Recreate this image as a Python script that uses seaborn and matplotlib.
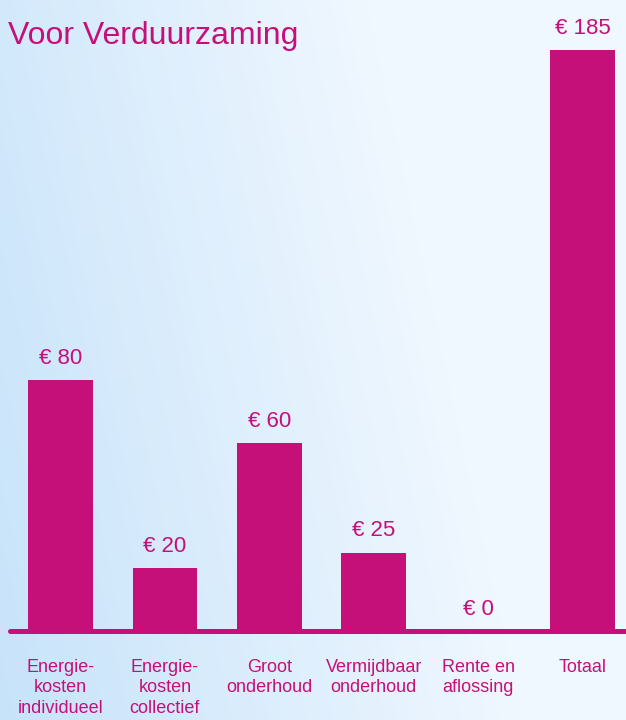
import numpy as np
import matplotlib
matplotlib.use("Agg")
import matplotlib.pyplot as plt
import seaborn as sns

# data
categories = ["Energie-\nkosten\nindividueel", "Energie-\nkosten\ncollectief", "Groot\nonderhoud",
              "Vermijdbaar\nonderhoud", "Rente en\naflossing", "Totaal"]
values = [80, 20, 60, 25, 0, 185]
value_labels = ["€ 80", "€ 20", "€ 60", "€ 25", "€ 0", "€ 185"]

magenta = "#C5107A"

sns.set_style("white")
plt.rcParams['font.family'] = ['Liberation Sans', 'DejaVu Sans']

fig = plt.figure(figsize=(6.26, 7.2), dpi=100)

# gradient background
bg = fig.add_axes([0, 0, 1, 1], zorder=-10)
u = np.linspace(0, 1, 300)[None, :]
v = np.linspace(1, 0, 300)[:, None]
s = np.clip(1.2 * u + 0.3 * v, 0, 1)[..., None]
blue = np.array([0.78, 0.89, 0.98])
white = np.array([0.94, 0.97, 1.0])
bg.imshow(blue * (1 - s) + white * s, aspect="auto", extent=[0, 1, 0, 1])
bg.axis("off")

ax = fig.add_axes([10 / 626, 89 / 720, 616 / 626, 611 / 720])
ax.patch.set_alpha(0)
sns.barplot(x=categories, y=values, color=magenta, saturation=1, width=0.62,
            linewidth=0, ax=ax)
ax.set_xlim(-0.484, 5.417)
ax.set_ylim(0, 194.6)
for sp in ax.spines.values():
    sp.set_visible(False)
ax.axhline(0, color=magenta, lw=3.6, clip_on=False)
ax.set_yticks([])
ax.set_xlabel("")
ax.set_ylabel("")
ax.tick_params(axis="x", length=0, pad=20, labelsize=13, labelcolor=magenta)
for lbl in ax.get_xticklabels():
    lbl.set_linespacing(1.28)

for i, (val, txt) in enumerate(zip(values, value_labels)):
    ax.annotate(txt, (i, val), xytext=(0, 8), textcoords="offset points",
                ha="center", va="bottom", fontsize=16, color=magenta)

fig.text(8 / 626, 1 - 36 / 720, "Voor Verduurzaming", fontsize=23, color=magenta,
         ha="left", va="center")

fig.savefig("out.png", dpi=100)
